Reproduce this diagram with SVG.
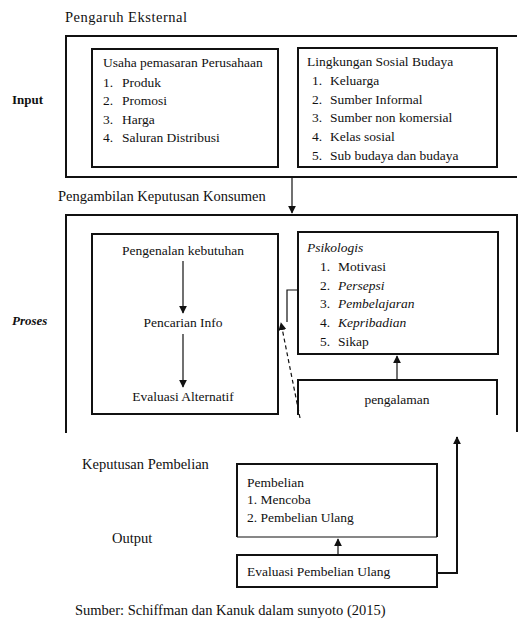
<svg xmlns="http://www.w3.org/2000/svg" width="519" height="622" viewBox="0 0 519 622">
<style>
text{font-family:"Liberation Serif","Times New Roman",serif;font-size:13.5px;fill:#111}
.box{fill:none;stroke:#111;stroke-width:2}
.thin{fill:none;stroke:#111;stroke-width:1.2}
.lbl{font-weight:bold;font-size:13px}
.big{font-size:14.5px}
.c{text-anchor:middle}
.i{font-style:italic}
</style>
<defs>
<marker id="ah" viewBox="0 0 10 10" refX="9" refY="5" markerWidth="8" markerHeight="8" markerUnits="userSpaceOnUse" orient="auto-start-reverse">
<path d="M0,0 L10,5 L0,10 z" fill="#111"/>
</marker>
</defs>
<rect width="519" height="622" fill="#fff"/>

<text class="big" x="65" y="22" textLength="122">Pengaruh Eksternal</text>
<text class="lbl" x="12" y="104">Input</text>
<text class="lbl i" x="12" y="325">Proses</text>
<text class="big" x="82" y="469">Keputusan Pembelian</text>
<text class="big" x="112" y="543">Output</text>
<text class="big" x="58" y="201">Pengambilan Keputusan Konsumen</text>
<text class="big" x="75" y="615">Sumber: Schiffman dan Kanuk dalam sunyoto (2015)</text>

<g id="input">
<path class="box" d="M517,36 H66 V177 H517"/>
</g>
<g id="usaha">
<rect class="box" x="92" y="49" width="186" height="118"/>
<text x="103" y="67">Usaha pemasaran Perusahaan</text>
<text x="103" y="87">1.</text><text x="122" y="87">Produk</text>
<text x="103" y="105">2.</text><text x="122" y="105">Promosi</text>
<text x="103" y="124">3.</text><text x="122" y="124">Harga</text>
<text x="103" y="142">4.</text><text x="122" y="142">Saluran Distribusi</text>
</g>
<g id="lingkungan">
<rect class="box" x="298" y="48" width="199" height="119"/>
<text x="307" y="66">Lingkungan Sosial Budaya</text>
<text x="312" y="85">1.</text><text x="330" y="85">Keluarga</text>
<text x="312" y="104">2.</text><text x="330" y="104">Sumber Informal</text>
<text x="312" y="122">3.</text><text x="330" y="122">Sumber non komersial</text>
<text x="312" y="141">4.</text><text x="330" y="141">Kelas sosial</text>
<text x="312" y="160">5.</text><text x="330" y="160">Sub budaya dan budaya</text>
</g>

<g id="proses">
<path class="box" d="M66,433 V215 H517 V432"/>
</g>
<g id="kebutuhan-box">
<rect class="box" x="92" y="234" width="186" height="180"/>
<text class="c" x="183" y="255">Pengenalan kebutuhan</text>
<text class="c" x="183" y="327">Pencarian Info</text>
<text class="c" x="183" y="401">Evaluasi Alternatif</text>
</g>
<g id="psikologis">
<rect class="box" x="298" y="232" width="200" height="122"/>
<text class="i" x="307" y="252">Psikologis</text>
<text x="320" y="271">1.</text><text x="338" y="271">Motivasi</text>
<text x="320" y="290">2.</text><text class="i" x="338" y="290">Persepsi</text>
<text x="320" y="308">3.</text><text class="i" x="338" y="308">Pembelajaran</text>
<text x="320" y="327">4.</text><text class="i" x="338" y="327">Kepribadian</text>
<text x="320" y="346">5.</text><text x="338" y="346">Sikap</text>
</g>
<g id="pengalaman">
<path class="box" d="M298,415 V380 H497 V415"/>
<text class="c" x="397" y="404">pengalaman</text>
</g>

<g id="pembelian">
<path class="box" d="M237,537 V464 H437 V537"/>
<path class="thin" d="M237,537 H437" stroke="#777"/>
<text x="247" y="487">Pembelian</text>
<text x="247" y="504">1. Mencoba</text>
<text x="247" y="522">2. Pembelian Ulang</text>
</g>
<g id="evaluasi">
<rect class="box" x="237" y="555" width="200" height="32"/>
<text x="247" y="576">Evaluasi Pembelian Ulang</text>
</g>

<g id="connectors">
<line class="thin" x1="292" y1="177" x2="292" y2="213" marker-end="url(#ah)"/>
<line class="thin" x1="183" y1="261" x2="183" y2="313" marker-end="url(#ah)"/>
<line class="thin" x1="183" y1="334" x2="183" y2="387" marker-end="url(#ah)"/>
<line class="thin" x1="397" y1="380" x2="397" y2="356" marker-end="url(#ah)"/>
<path class="thin" d="M298,290 H287 V322"/>
<line class="thin" x1="300" y1="418" x2="281" y2="323" stroke-dasharray="4,3" marker-end="url(#ah)"/>
<line class="thin" x1="338" y1="555" x2="338" y2="539" marker-end="url(#ah)"/>
<path class="box" d="M437,573 H457 V437" marker-end="url(#ah)"/>
</g>
</svg>
